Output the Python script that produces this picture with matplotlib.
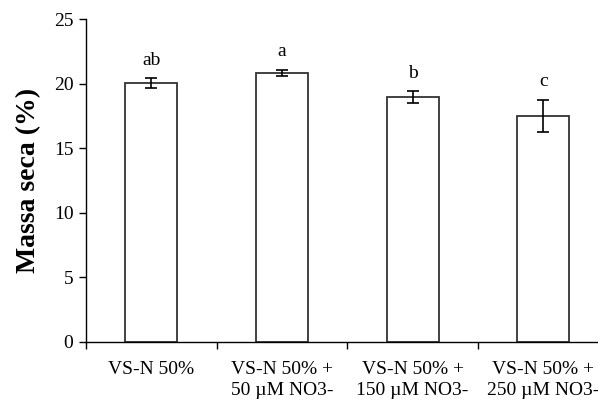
import matplotlib.pyplot as plt
import numpy as np

plt.rcParams['font.family'] = ['Liberation Serif', 'DejaVu Serif']

treatments = ['VS-N 50%', 'VS-N 50% +\n50 µM NO3-', 'VS-N 50% +\n150 µM NO3-', 'VS-N 50% +\n250 µM NO3-']
dry_mass = [20.05, 20.85, 18.95, 17.5]
dry_mass_err = [0.36, 0.23, 0.47, 1.25]
letters = ['ab', 'a', 'b', 'c']

fig = plt.figure(figsize=(5.98, 4.05), dpi=100)
ax = fig.add_axes([0.1438, 0.1556, 0.874, 0.797])

x = np.arange(len(treatments))
ax.bar(x, dry_mass, width=0.4, color='white', edgecolor='#333333', linewidth=1.3, zorder=2)
ax.errorbar(x, dry_mass, yerr=dry_mass_err, fmt='none', ecolor='black',
            elinewidth=1.2, capsize=4, capthick=1.2, zorder=3)

for xi, v, e, lab in zip(x, dry_mass, dry_mass_err, letters):
    ax.annotate(lab, (xi, v + e), xytext=(0, 7), textcoords='offset points',
                ha='center', va='bottom', fontsize=14)

ax.set_xlim(-0.5, len(treatments) - 0.5)
ax.set_ylim(0, 25)
ax.set_yticks(np.arange(0, 26, 5))

# category boundaries get the tick marks, centres get the labels
ax.set_xticks(np.arange(-0.5, len(treatments), 1.0))
ax.set_xticklabels([])
ax.set_xticks(x, minor=True)
ax.set_xticklabels(treatments, minor=True, fontsize=14, linespacing=1.3)
ax.tick_params(axis='x', which='major', direction='out', length=5, width=1)
ax.tick_params(axis='x', which='minor', length=0, pad=14)
ax.tick_params(axis='y', direction='out', length=5, width=1, labelsize=14, pad=4)

ax.spines['top'].set_visible(False)
ax.spines['right'].set_visible(False)
ax.spines['left'].set_linewidth(1)
ax.spines['bottom'].set_linewidth(1)

ax.set_ylabel('Massa seca (%)', fontsize=20, fontweight='bold', labelpad=9)

fig.savefig('out.png', dpi=100)
